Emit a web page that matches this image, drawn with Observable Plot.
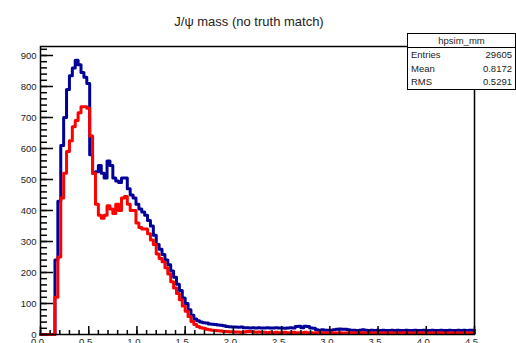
<!DOCTYPE html>
<html>
<head>
<meta charset="utf-8">
<script src="https://cdn.jsdelivr.net/npm/d3@7"></script>
<script src="https://cdn.jsdelivr.net/npm/@observablehq/plot@0.6"></script>
<style>
  html, body { margin: 0; padding: 0; background: #fff; overflow: hidden; }
  #wrap { position: relative; width: 516px; height: 343px; overflow: hidden; font-family: "Liberation Sans", Arial, sans-serif; }
  #title { position: absolute; left: 0; top: 15px; width: 498px; text-align: center; font-size: 13px; line-height: 14px; color: #222; }
  #stats { position: absolute; left: 407px; top: 33px; width: 107px; border: 1px solid #000; background: #fff; font-size: 9.5px; color: #222; box-sizing: content-box; }
  #stats .hdr { height: 13px; line-height: 13px; text-align: center; border-bottom: 1px solid #000; }
  #stats .row { height: 13.5px; line-height: 13.5px; display: flex; justify-content: space-between; padding: 0 3px; }
</style>
</head>
<body>
<div id="wrap">
  <div id="chart"></div>
  <div id="title"></div>
  <div id="stats"></div>
</div>
<script>
// ---- data ----
const titleText = "J/\u03c8 mass (no truth match)";
const histName = "hpsim_mm";
const statLabels = ["Entries", "Mean", "RMS"];
const statValues = ["29605", "0.8172", "0.5291"];

const xMin = 0, xMax = 4.5, binWidth = 0.03; // 150 bins
const yMax = 929;

// bin contents (blue: all, red: second histogram)
const blueCounts = [
  0, 0, 0, 0, 0, 240, 430, 610, 700, 790,
  835, 860, 885, 870, 845, 830, 810, 580, 520, 525,
  545, 520, 505, 560, 545, 505, 495, 490, 505, 505,
  470, 450, 440, 420, 405, 395, 385, 368, 350, 320,
  290, 275, 258, 240, 225, 205, 185, 162, 142, 118,
  100, 80, 62, 50, 44, 40, 38, 37, 34, 33,
  32, 31, 30, 28, 26, 25, 24, 24, 23, 24,
  22, 22, 21, 22, 21, 22, 21, 21, 22, 21,
  21, 22, 21, 21, 20, 21, 22, 21, 26, 27,
  22, 27, 26, 21, 20, 15, 14, 15, 14, 14,
  14, 15, 17, 18, 17, 17, 15, 14, 14, 13,
  14, 15, 14, 13, 14, 13, 14, 13, 14, 13,
  13, 14, 13, 14, 13, 13, 14, 13, 13, 14,
  13, 13, 14, 13, 13, 14, 13, 13, 14, 13,
  13, 14, 13, 13, 14, 13, 14, 13, 14, 14
];
const redCounts = [
  0, 0, 0, 0, 0, 120, 250, 440, 520, 590,
  625, 670, 690, 715, 735, 735, 730, 640, 520, 420,
  385, 375, 385, 415, 405, 390, 420, 400, 440, 445,
  420, 400, 400, 360, 345, 340, 340, 325, 305, 290,
  260, 245, 235, 215, 195, 170, 150, 132, 112, 92,
  75, 58, 42, 32, 26, 22, 20, 17, 15, 14,
  13, 12, 11, 10, 10, 9, 9, 8, 8, 7,
  8, 10, 10, 9, 7, 8, 7, 7, 6, 7,
  6, 7, 6, 6, 7, 6, 6, 7, 6, 6,
  6, 7, 6, 6, 5, 6, 5, 6, 5, 5,
  6, 5, 5, 6, 5, 5, 5, 6, 5, 5,
  5, 6, 5, 5, 5, 6, 5, 5, 5, 5,
  6, 5, 5, 5, 5, 6, 5, 5, 5, 5,
  5, 6, 5, 5, 5, 5, 5, 6, 5, 5,
  5, 5, 6, 5, 5, 5, 5, 6, 5, 5
];

const yMajor = [0, 100, 200, 300, 400, 500, 600, 700, 800, 900];
const yMinor = d3.range(0, 921, 20);
const xMajor = [0, 0.5, 1, 1.5, 2, 2.5, 3, 3.5, 4, 4.5];
const xMinor = d3.range(0, 45.01, 1).map(d => d / 10);

// ---- build step tables (bin edges) ----
function steps(counts) {
  const rows = counts.map((c, i) => ({x: xMin + i * binWidth, y: c}));
  rows.push({x: xMax, y: counts[counts.length - 1]});
  return rows;
}
const blue = steps(blueCounts);
const red = steps(redCounts);

const W = 516, H = 343, mL = 40, mR = 42, mT = 46, mB = 9;
const frameW = W - mL - mR, frameH = H - mT - mB;

const plot = Plot.plot({
  width: W,
  height: H,
  marginLeft: mL,
  marginRight: mR,
  marginTop: mT,
  marginBottom: mB,
  style: {fontFamily: "Liberation Sans, Arial, sans-serif", fontSize: "9.5px", color: "#222", background: "#fff"},
  x: {domain: [xMin, xMax], label: null},
  y: {domain: [0, yMax], label: null},
  marks: [
    Plot.lineY(blue, {x: "x", y: "y", curve: "step-after", stroke: "#000099", strokeWidth: 3}),
    Plot.lineY(red, {x: "x", y: "y", curve: "step-after", stroke: "#ff0000", strokeWidth: 3}),
    // inward ROOT-style ticks
    Plot.tickY(yMinor, {y: d => d, insetRight: frameW - 7, stroke: "#000", strokeWidth: 1.5}),
    Plot.tickY(yMajor, {y: d => d, insetRight: frameW - 13, stroke: "#000", strokeWidth: 1.5}),
    Plot.tickX(xMinor, {x: d => d, insetTop: frameH - 4, stroke: "#000", strokeWidth: 1.5}),
    Plot.tickX(xMajor, {x: d => d, insetTop: frameH - 8, stroke: "#000", strokeWidth: 1.5}),
    Plot.axisY({ticks: yMajor, tickSize: 0, tickPadding: 4, label: null, fill: "#222"}),
    Plot.axisX({ticks: xMajor, tickSize: 0, tickPadding: 4, label: null, fill: "#222", dx: -3}),
    Plot.frame({stroke: "#000", strokeWidth: 1.5})
  ]
});
document.getElementById("chart").appendChild(plot);

document.getElementById("title").textContent = titleText;
const stats = document.getElementById("stats");
const hdr = document.createElement("div");
hdr.className = "hdr";
hdr.textContent = histName;
stats.appendChild(hdr);
statLabels.forEach((l, i) => {
  const r = document.createElement("div");
  r.className = "row";
  const a = document.createElement("span"); a.textContent = l;
  const b = document.createElement("span"); b.textContent = statValues[i];
  r.appendChild(a); r.appendChild(b);
  stats.appendChild(r);
});
</script>
</body>
</html>
